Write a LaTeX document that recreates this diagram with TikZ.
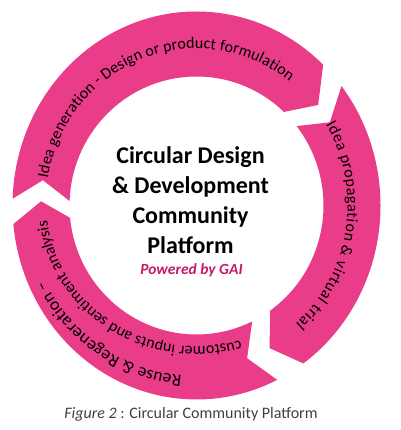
\documentclass[tikz,border=0pt]{standalone}
\usepackage{fontspec}
\setmainfont{Carlito}
\usepackage{tikz}
\usetikzlibrary{decorations.text}

\definecolor{ringpink}{RGB}{233,60,137}
\definecolor{gaipink}{RGB}{196,26,108}
\definecolor{capgray}{RGB}{64,64,64}

\newcommand{\arrowfont}{\fontsize{16}{19}\selectfont}
\newcommand{\bigarrowfont}{\fontsize{17.5}{20}\selectfont}
\newcommand{\ringarrow}[4]{%
	\fill[ringpink] (#1:184 and 194) arc[start angle=#1, end angle=#3, x radius=184pt, y radius=194pt]
		-- (#4:155.5 and 161.5) -- (#3:127 and 129)
		arc[start angle=#3, end angle=#1, x radius=127pt, y radius=129pt]
		-- (#2:155.5 and 161.5) -- cycle;}
\newcommand{\arrowtext}[6][\arrowfont]{%
	\path[decorate, decoration={text along path, text align=fit to path, text={|#1|#6}}]
		(#2:#4 and #5) arc[start angle=#2, end angle=#3, x radius=#4pt, y radius=#5pt];}

\begin{document}
\begin{tikzpicture}
	[x=1pt, y=1pt,
	title/.style={align=center, inner sep=0pt, font=\bfseries\fontsize{24}{30}\selectfont},
	powered/.style={inner sep=0pt, text=gaipink, font=\bfseries\itshape\fontsize{15.5}{18}\selectfont},
	caption/.style={inner sep=0pt, text=capgray, font=\fontsize{16}{18}\selectfont}]
	\useasboundingbox (0,0) rectangle (400,430);
	\begin{scope}[shift={(196.5,224.5)}]
		\ringarrow{178}{171}{46.5}{38.5}
		\ringarrow{38}{31}{-54.5}{-62}
		\ringarrow{-64}{-71}{-174.5}{-181.5}
		\arrowtext{170}{52}{151}{157}{Idea generation - Design or product formulation}
		\arrowtext{31}{-49}{151}{157}{Idea propagation {\&} virtual trial}
		\arrowtext[\bigarrowfont]{-95}{-154}{169}{171}{Reuse {\&} Regeneration –}
		\arrowtext{-73}{-174}{150}{141}{customer inputs and sentiment analysis}
	\end{scope}
	\node[title, anchor=north] (title) at (190.5,284) {Circular Design\\ \& Development\\ Community\\ Platform};
	\node[powered, anchor=base] (powered) at (191.5,155) {Powered by GAI};
	\node[caption, anchor=base] (caption) at (191,12) {\textit{Figure 2} : Circular Community Platform};
\end{tikzpicture}
\end{document}
